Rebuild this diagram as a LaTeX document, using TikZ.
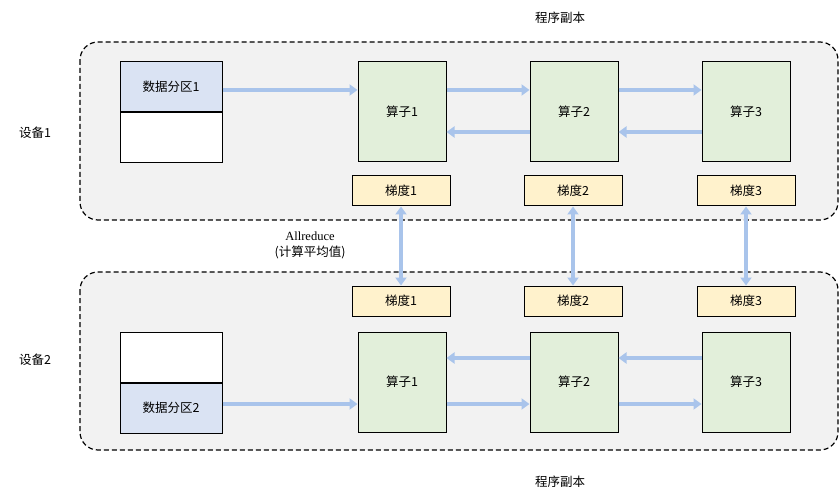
\documentclass[tikz,border=0pt]{standalone}
\usepackage{fontspec}
\setmainfont{Liberation Serif}
\newfontfamily\cjk{Noto Sans CJK SC}
\usetikzlibrary{arrows.meta, positioning}
\definecolor{dataBlue}{HTML}{DAE3F3}
\definecolor{opGreen}{HTML}{E2EFDA}
\definecolor{gradYellow}{HTML}{FFF2CC}
\definecolor{flowBlue}{HTML}{A9C4EB}
\definecolor{panelGray}{HTML}{F2F2F2}

\begin{document}
\begin{tikzpicture}[
        x=1pt, y=-1pt,
        font=\cjk\fontsize{12.5}{15}\selectfont,
        panel/.style = {draw, dash pattern=on 5pt off 3pt, fill=panelGray, rounded corners=18pt, line width=1.2pt},
        base/.style = {draw, line width=1pt, inner sep=0pt, align=center},
        data/.style = {base, minimum width=102pt, minimum height=50pt},
        op/.style = {base, fill=opGreen, minimum width=88pt, minimum height=100pt},
        grad/.style = {base, fill=gradYellow, minimum width=98pt, minimum height=30pt},
        flow/.style = {-{Triangle[length=8pt,width=11pt]}, draw=flowBlue, line width=4pt},
        both/.style = {{Triangle[length=8pt,width=11pt]}-{Triangle[length=8pt,width=11pt]}, draw=flowBlue, line width=4pt},
        ]
        \useasboundingbox (0,0) rectangle (839,500);
        % device panels
        \draw [panel] (80,42) rectangle (838,220);
        \draw [panel] (80,272) rectangle (838,450);
        \node (copyT) at (560,18) {程序副本};
        \node (copyB) at (560,482) {程序副本};
        \node (dev1) at (35,133) {设备1};
        \node (dev2) at (35,360) {设备2};
        \node [align=center, font=\fontsize{12.5}{16}\selectfont] (allred) at (310,245) {Allreduce\\{\cjk(计算平均值)}};
        % device 1
        \node [data, fill=dataBlue] (d1) at (171,87) {数据分区1};
        \node [data, fill=white, below=0pt of d1] (d1e) {};
        \node [op] (a11) at (402,112) {算子1};
        \node [op] (a12) at (574,112) {算子2};
        \node [op] (a13) at (746,112) {算子3};
        \node [grad] (g11) at (401,191) {梯度1};
        \node [grad] (g12) at (573,191) {梯度2};
        \node [grad] (g13) at (746,191) {梯度3};
        % device 2
        \node [data, fill=white] (d2e) at (171,357) {};
        \node [data, fill=dataBlue, below=0pt of d2e] (d2) {数据分区2};
        \node [op] (a21) at (402,382) {算子1};
        \node [op] (a22) at (574,382) {算子2};
        \node [op] (a23) at (746,382) {算子3};
        \node [grad] (g21) at (401,301) {梯度1};
        \node [grad] (g22) at (573,301) {梯度2};
        \node [grad] (g23) at (746,301) {梯度3};

        \draw [flow] (d1.east |- 0,90) -- (a11.west |- 0,90);
        \draw [flow] (a11.east |- 0,90) -- (a12.west |- 0,90);
        \draw [flow] (a12.east |- 0,90) -- (a13.west |- 0,90);
        \draw [flow] (a13.west |- 0,132) -- (a12.east |- 0,132);
        \draw [flow] (a12.west |- 0,132) -- (a11.east |- 0,132);

        \draw [flow] (d2.east |- 0,404) -- (a21.west |- 0,404);
        \draw [flow] (a21.east |- 0,404) -- (a22.west |- 0,404);
        \draw [flow] (a22.east |- 0,404) -- (a23.west |- 0,404);
        \draw [flow] (a23.west |- 0,358) -- (a22.east |- 0,358);
        \draw [flow] (a22.west |- 0,358) -- (a21.east |- 0,358);

        \foreach \i in {1,2,3}
            \draw [both] (g1\i.south) -- (g2\i.north);
    \end{tikzpicture}
\end{document}
